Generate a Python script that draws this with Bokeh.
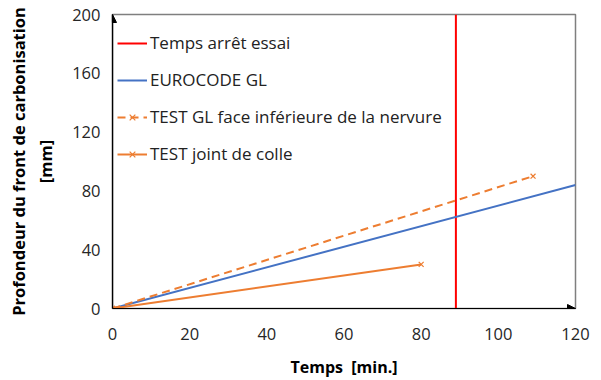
from bokeh.plotting import figure
from bokeh.models import Range1d, FixedTicker, Arrow, NormalHead, Legend, LegendItem
from bokeh.embed import file_html
from bokeh.resources import INLINE

# Data
stop_time = [89, 89]
stop_y = [0, 200]
euro_x = [0, 120]
euro_y = [0, 84]
test_gl_x = [0, 109]
test_gl_y = [0, 90]
test_joint_x = [0, 80]
test_joint_y = [0, 30]
x_ticks = [0, 20, 40, 60, 80, 100, 120]
y_ticks = [0, 40, 80, 120, 160, 200]

FONT = "Open Sans"
p = figure(width=601, height=380, output_backend="svg", toolbar_location=None,
           x_range=Range1d(0, 120), y_range=Range1d(0, 200),
           min_border_left=112, min_border_right=26, min_border_top=14, min_border_bottom=72)
p.grid.visible = False
p.outline_line_color = "#7f7f7f"
p.outline_line_width = 1.5
p.background_fill_color = "white"

for ax in (p.xaxis[0], p.yaxis[0]):
    ax.major_tick_out = 0
    ax.major_tick_in = 0
    ax.minor_tick_out = 0
    ax.minor_tick_in = 0
    ax.axis_line_color = "black"
    ax.axis_line_width = 1.2
    ax.major_label_text_font = FONT
    ax.major_label_text_font_size = "16.5px"
    ax.major_label_text_color = "#262626"
    ax.axis_label_text_font = FONT
    ax.axis_label_text_font_style = "bold"
    ax.axis_label_text_color = "black"

p.xaxis.axis_label_text_font_size = "16px"
p.yaxis.axis_label_text_font_size = "16.5px"
p.xaxis.ticker = FixedTicker(ticks=x_ticks)
p.yaxis.ticker = FixedTicker(ticks=y_ticks)
p.xaxis.major_label_standoff = 19
p.yaxis.major_label_standoff = 12
p.xaxis.axis_label = "Temps\u00a0\u00a0[min.]"
p.yaxis.axis_label = "Profondeur du front de carbonisation\n[mm]"
p.xaxis.axis_label_standoff = 13
p.yaxis.axis_label_standoff = 12

r_stop = p.line(stop_time, stop_y, line_color="#FF0000", line_width=2)
r_euro = p.line(euro_x, euro_y, line_color="#4472C4", line_width=2)
r_gl = p.line(test_gl_x, test_gl_y, line_color="#ED7D31", line_width=2, line_dash="8 5")
r_gl_m = p.scatter(test_gl_x, test_gl_y, marker="x", size=7, line_color="#ED7D31", line_width=1.2)
r_j = p.line(test_joint_x, test_joint_y, line_color="#ED7D31", line_width=2)
r_j_m = p.scatter(test_joint_x, test_joint_y, marker="x", size=7, line_color="#ED7D31", line_width=1.2)

# axis arrows
p.add_layout(Arrow(x_start=0, y_start=0, x_end=0, y_end=200, line_color="black", line_width=1.2,
                   end=NormalHead(size=8, fill_color="black", line_color="black")))
p.add_layout(Arrow(x_start=0, y_start=0, x_end=120, y_end=0, line_color="black", line_width=1.2,
                   end=NormalHead(size=8, fill_color="black", line_color="black")))

legend = Legend(items=[
    LegendItem(label="Temps arrêt essai", renderers=[r_stop]),
    LegendItem(label="EUROCODE GL", renderers=[r_euro]),
    LegendItem(label="TEST GL face inférieure de la nervure", renderers=[r_gl, r_gl_m]),
    LegendItem(label="TEST joint de colle", renderers=[r_j, r_j_m]),
])
legend.border_line_color = None
legend.background_fill_alpha = 0
legend.label_text_font = FONT
legend.label_text_font_size = "17px"
legend.label_text_color = "#222222"
legend.glyph_width = 30
legend.glyph_height = 20
legend.label_height = 20
legend.spacing = 14
legend.label_standoff = 3
legend.padding = 0
legend.margin = 0
legend.location = (5, 143)
p.add_layout(legend)

open("out.html", "w").write(file_html(p, INLINE))
